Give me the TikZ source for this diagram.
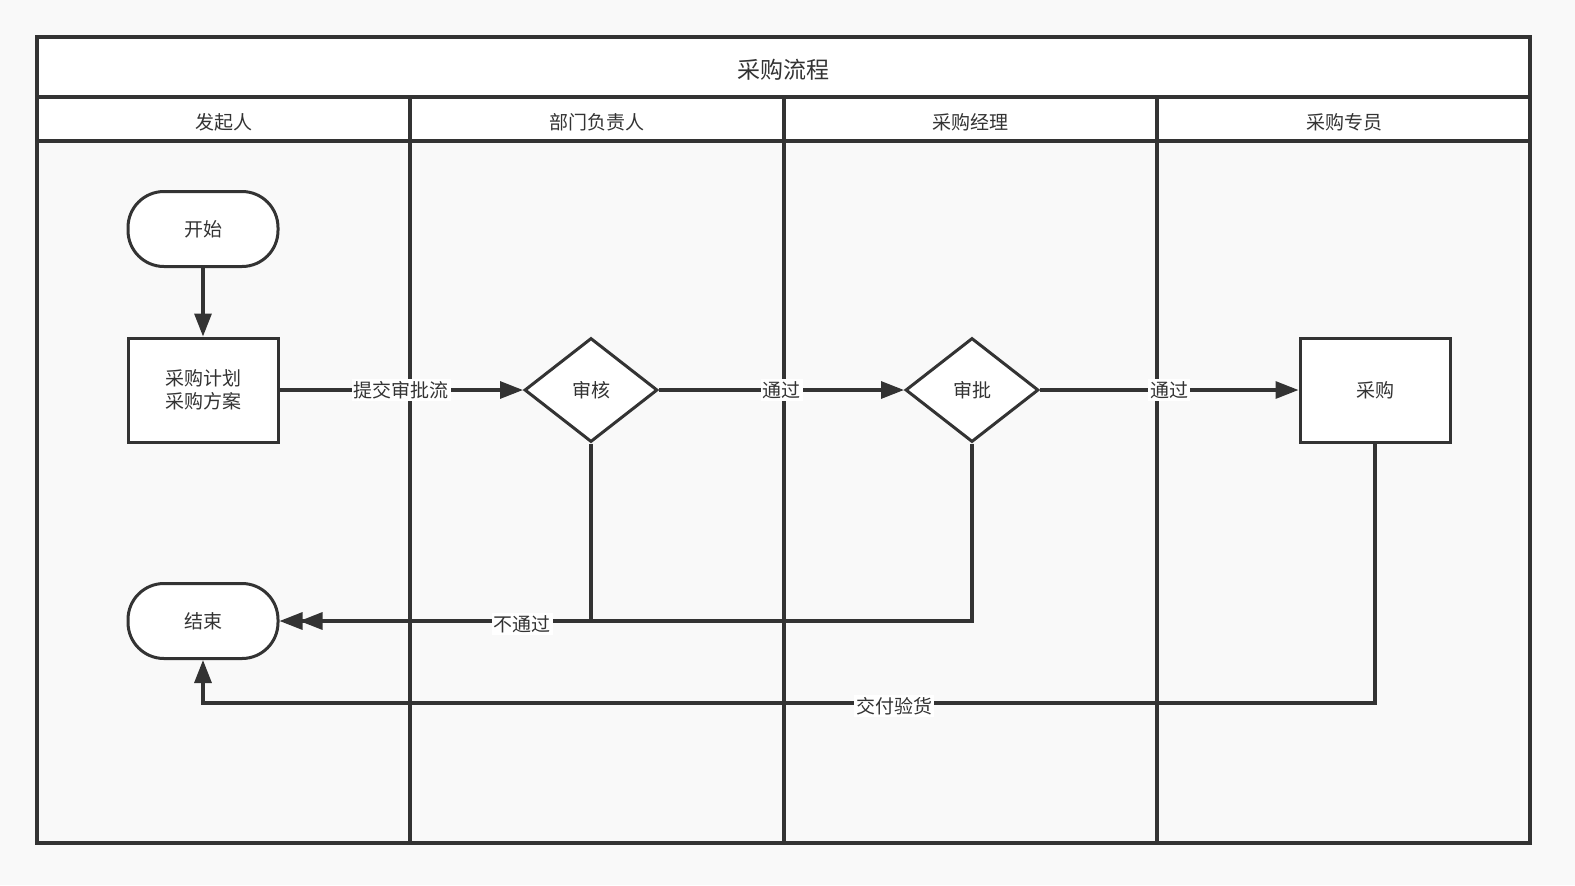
\documentclass[tikz,border=0pt]{standalone}
\usepackage{fontspec}
\setmainfont{Noto Sans CJK SC}
\usetikzlibrary{shapes.geometric,arrows.meta}
\definecolor{ln}{HTML}{333333}
\definecolor{bgc}{HTML}{F9F9F9}
\tikzset{
  lanetxt/.style={font=\fontsize{9.5pt}{11.5pt}\selectfont, text=ln},
  boxnode/.style={draw=ln, line width=1.5pt, fill=white, font=\fontsize{9.5pt}{11.5pt}\selectfont, text=ln, align=center, inner sep=0pt},
  termnode/.style={boxnode, rectangle, rounded corners=18pt, minimum width=75pt, minimum height=37.5pt},
  procnode/.style={boxnode, rectangle, minimum width=75pt, minimum height=52pt},
  decnode/.style={boxnode, diamond, minimum width=66.5pt, minimum height=52pt},
  flow/.style={draw=ln, line width=1.6pt, -{Triangle[length=11.5pt,width=8.5pt]}},
  elabel/.style={fill=white, inner sep=1pt, font=\fontsize{9.5pt}{11.5pt}\selectfont, text=ln},
  lane/.style={draw=ln, line width=1.6pt}
}
\begin{document}
\begin{tikzpicture}[x=0.5pt,y=-0.5pt]
  \fill[bgc] (0,0) rectangle (1575,885);
  \useasboundingbox (0,0) rectangle (1575,885);
  % pool
  \fill[white] (37,37) rectangle (1530,141);
  \draw[lane] (37,37) rectangle (1530,843);
  \draw[lane] (37,97) -- (1530,97);
  \draw[lane] (37,141) -- (1530,141);
  \draw[lane] (410,97) -- (410,843);
  \draw[lane] (784,97) -- (784,843);
  \draw[lane] (1157,97) -- (1157,843);
  \node[lanetxt, font=\fontsize{11.5pt}{13pt}\selectfont] (title) at (783,70) {采购流程};
  \node[lanetxt] (h1) at (224,122) {发起人};
  \node[lanetxt] (h2) at (597,122) {部门负责人};
  \node[lanetxt] (h3) at (970,122) {采购经理};
  \node[lanetxt] (h4) at (1344,122) {采购专员};
  % nodes
  \node[termnode] (start) at (203,229) {开始};
  \node[procnode] (plan) at (203,390) {采购计划\\采购方案};
  \node[decnode] (sh) at (591,390) {审核};
  \node[decnode] (sp) at (972,390) {审批};
  \node[procnode] (cg) at (1375,390) {采购};
  \node[termnode] (end) at (203,621) {结束};
  \coordinate (c1) at (1375,703);
  \coordinate (c2) at (203,703);
  % edges
  \draw[flow] (start) -- (plan);
  \draw[flow] (plan) -- node[elabel] {提交审批流} (sh);
  \draw[flow] (sh) -- node[elabel] {通过} (sp);
  \draw[flow] (sp) -- node[elabel] {通过} (cg);
  \draw[flow, shorten >=10pt] (sp.south) |- (end.east);
  \draw[flow] (sh.south) |- node[elabel, pos=0.61, yshift=-1.5pt] {不通过} (end.east);
  \draw[flow] (cg.south) -- (c1) -- node[elabel, pos=0.41, yshift=-1.5pt] {交付验货} (c2) -- (end.south);
\end{tikzpicture}
\end{document}
